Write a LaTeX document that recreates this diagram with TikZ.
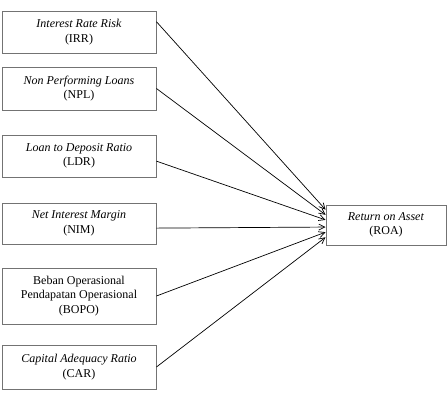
\documentclass[tikz,border=0pt]{standalone}
\usepackage{fontspec}
\setmainfont{Liberation Serif}
\usetikzlibrary{arrows.meta,calc}
\begin{document}
\begin{tikzpicture}[x=1pt,y=-1pt,
  varbox/.style={draw=black!55,line width=0.9pt,rectangle,inner sep=0pt,
    minimum width=154pt,align=center,font=\fontsize{12}{14.5}\selectfont},
  link/.style={draw=black,line width=0.7pt,-{Straight Barb[length=6pt,width=6pt]}}]
\useasboundingbox (0,0) rectangle (447,405);
\node[varbox,minimum height=42pt] (irr) at (79,32) {\textit{Interest Rate Risk}\\(IRR)};
\node[varbox,minimum height=43pt] (npl) at (79,88.5) {\textit{Non Performing Loans}\\(NPL)};
\node[varbox,minimum height=42pt] (ldr) at (79,156) {\textit{Loan to Deposit Ratio}\\(LDR)};
\node[varbox,minimum height=41pt] (nim) at (79,223.5) {\textit{Net Interest Margin}\\(NIM)};
\node[varbox,minimum height=56pt] (bopo) at (79,296) {Beban Operasional\\Pendapatan Operasional\\(BOPO)};
\node[varbox,minimum height=44pt] (car) at (79,367) {\textit{Capital Adequacy Ratio}\\(CAR)};
\node[varbox,minimum width=120pt,minimum height=40pt] (roa) at (386,225) {\textit{Return on Asset}\\(ROA)};
\draw[link] ($(irr.north east)!0.26!(irr.south east)$) -- ($(roa.north west)!0.125!(roa.south west)$);
\draw[link] ($(npl.north east)!0.5!(npl.south east)$) -- ($(roa.north west)!0.25!(roa.south west)$);
\draw[link] ($(ldr.north east)!0.62!(ldr.south east)$) -- ($(roa.north west)!0.375!(roa.south west)$);
\draw[link] ($(nim.north east)!0.61!(nim.south east)$) -- ($(roa.north west)!0.55!(roa.south west)$);
\draw[link] ($(bopo.north east)!0.5!(bopo.south east)$) -- ($(roa.north west)!0.675!(roa.south west)$);
\draw[link] ($(car.north east)!0.5!(car.south east)$) -- ($(roa.north west)!0.8!(roa.south west)$);
\end{tikzpicture}
\end{document}
